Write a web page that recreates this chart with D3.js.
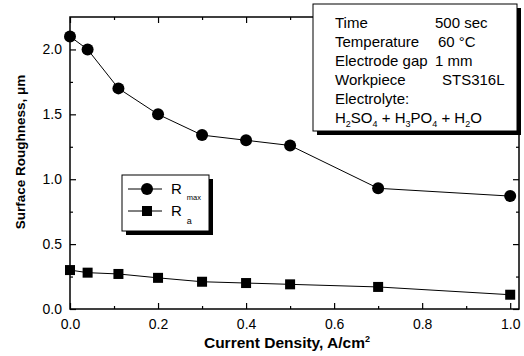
<!DOCTYPE html>
<html>
<head>
  <meta charset="utf-8" />
  <title>Surface roughness</title>
  <script src="https://d3js.org/d3.v7.min.js"></script>
  <style>
    body { margin: 0; background: #fff; }
    text { font-family: Arial, "Liberation Sans", sans-serif; fill: #000; }
  </style>
</head>
<body>
  <script>
    // data
    const density = [0, 0.04, 0.11, 0.2, 0.3, 0.4, 0.5, 0.7, 1.0];
    const rmax = [2.1, 2.0, 1.7, 1.5, 1.34, 1.3, 1.26, 0.93, 0.87];
    const ra = [0.3, 0.28, 0.27, 0.24, 0.21, 0.2, 0.19, 0.17, 0.11];

    const xMajor = [0, 0.2, 0.4, 0.6, 0.8, 1.0];
    const xMinor = [0.1, 0.3, 0.5, 0.7, 0.9];
    const yMajor = [0, 0.5, 1.0, 1.5, 2.0];
    const yMinor = [0.25, 0.75, 1.25, 1.75];

    const condLabels = ["Time", "Temperature", "Electrode gap", "Workpiece", "Electrolyte:"];
    const condValues = ["500 sec", "60 \u00B0C", "1 mm", "STS316L", ""];

    const width = 524, height = 356;
    const mLeft = 70, mRight = 519, mTop = 17, mBottom = 309;

    const svg = d3.select("body").append("svg")
      .attr("width", width)
      .attr("height", height);

    const x = d3.scaleLinear().domain([0, 1.02]).range([mLeft, mRight]);
    const y = d3.scaleLinear().domain([0, 2.25]).range([mBottom, mTop]);

    // frame
    svg.append("rect")
      .attr("x", mLeft).attr("y", mTop)
      .attr("width", mRight - mLeft).attr("height", mBottom - mTop)
      .attr("fill", "none").attr("stroke", "#000").attr("stroke-width", 1.5);

    function styleAxis(g) {
      g.select(".domain").remove();
      g.selectAll("line").attr("stroke", "#000").attr("stroke-width", 1.2);
      g.selectAll("text").style("font-size", "14px")
        .style("font-family", "Arial, 'Liberation Sans', sans-serif");
    }

    // bottom
    svg.append("g").attr("transform", `translate(0,${mBottom})`)
      .call(d3.axisBottom(x).tickValues(xMajor).tickSize(-6).tickPadding(10).tickFormat(d3.format(".1f")))
      .call(styleAxis);
    svg.append("g").attr("transform", `translate(0,${mBottom})`)
      .call(d3.axisBottom(x).tickValues(xMinor).tickSize(-3).tickFormat(""))
      .call(styleAxis);
    // top
    svg.append("g").attr("transform", `translate(0,${mTop})`)
      .call(d3.axisTop(x).tickValues(xMajor).tickSize(-6).tickFormat(""))
      .call(styleAxis);
    svg.append("g").attr("transform", `translate(0,${mTop})`)
      .call(d3.axisTop(x).tickValues(xMinor).tickSize(-3).tickFormat(""))
      .call(styleAxis);
    // left
    svg.append("g").attr("transform", `translate(${mLeft},0)`)
      .call(d3.axisLeft(y).tickValues(yMajor).tickSize(-6).tickPadding(8).tickFormat(d3.format(".1f")))
      .call(styleAxis);
    svg.append("g").attr("transform", `translate(${mLeft},0)`)
      .call(d3.axisLeft(y).tickValues(yMinor).tickSize(-3).tickFormat(""))
      .call(styleAxis);
    // right
    svg.append("g").attr("transform", `translate(${mRight},0)`)
      .call(d3.axisRight(y).tickValues(yMajor).tickSize(-6).tickFormat(""))
      .call(styleAxis);
    svg.append("g").attr("transform", `translate(${mRight},0)`)
      .call(d3.axisRight(y).tickValues(yMinor).tickSize(-3).tickFormat(""))
      .call(styleAxis);

    // axis titles
    const xt = svg.append("text")
      .attr("x", 287).attr("y", 348)
      .attr("text-anchor", "middle")
      .style("font-size", "15.5px").style("font-weight", "bold")
      .text("Current Density, A/cm");
    xt.append("tspan").attr("dy", -6).style("font-size", "9px").text("2");

    svg.append("text")
      .attr("transform", "translate(25,152) rotate(-90)")
      .attr("text-anchor", "middle")
      .style("font-size", "13.5px").style("font-weight", "bold")
      .text("Surface Roughness, \u03BCm");

    // series
    const rows = density.map((d, i) => ({ x: d, rmax: rmax[i], ra: ra[i] }));

    const lineMax = d3.line().x(d => x(d.x)).y(d => y(d.rmax));
    const lineA = d3.line().x(d => x(d.x)).y(d => y(d.ra));

    svg.append("path").datum(rows).attr("d", lineMax)
      .attr("fill", "none").attr("stroke", "#000").attr("stroke-width", 1);
    svg.append("path").datum(rows).attr("d", lineA)
      .attr("fill", "none").attr("stroke", "#000").attr("stroke-width", 1);

    svg.selectAll("circle.pt").data(rows).enter().append("circle")
      .attr("class", "pt")
      .attr("cx", d => x(d.x)).attr("cy", d => y(d.rmax))
      .attr("r", 6).attr("fill", "#000");

    const sq = 10;
    svg.selectAll("rect.pt").data(rows).enter().append("rect")
      .attr("class", "pt")
      .attr("x", d => x(d.x) - sq / 2).attr("y", d => y(d.ra) - sq / 2)
      .attr("width", sq).attr("height", sq).attr("fill", "#000");

    // legend box
    const lg = svg.append("g").attr("transform", "translate(122,175)");
    lg.append("rect").attr("x", 4).attr("y", 4).attr("width", 87).attr("height", 56).attr("fill", "#000");
    lg.append("rect").attr("width", 87).attr("height", 56)
      .attr("fill", "#fff").attr("stroke", "#000").attr("stroke-width", 1);

    lg.append("line").attr("x1", 6).attr("x2", 40).attr("y1", 14).attr("y2", 14).attr("stroke", "#000");
    lg.append("circle").attr("cx", 25).attr("cy", 14).attr("r", 6).attr("fill", "#000");
    const t1 = lg.append("text").attr("x", 49).attr("y", 19).style("font-size", "15px").text("R");
    t1.append("tspan").attr("dx", 5).attr("dy", 6).style("font-size", "7.5px").text("max");

    lg.append("line").attr("x1", 6).attr("x2", 40).attr("y1", 36).attr("y2", 36).attr("stroke", "#000");
    lg.append("rect").attr("x", 25 - sq / 2).attr("y", 36 - sq / 2).attr("width", sq).attr("height", sq).attr("fill", "#000");
    const t2 = lg.append("text").attr("x", 49).attr("y", 41).style("font-size", "15px").text("R");
    t2.append("tspan").attr("dx", 5).attr("dy", 8).style("font-size", "9px").text("a");

    // conditions box
    const cb = svg.append("g").attr("transform", "translate(313,4)");
    cb.append("rect").attr("x", 4).attr("y", 4).attr("width", 204).attr("height", 127).attr("fill", "#000");
    cb.append("rect").attr("width", 204).attr("height", 127)
      .attr("fill", "#fff").attr("stroke", "#000").attr("stroke-width", 1);

    const lineH = 19;
    condLabels.forEach((lab, i) => {
      cb.append("text").attr("x", 22).attr("y", 24 + i * lineH)
        .style("font-size", "15px").text(lab);
    });
    condValues.forEach((v, i) => {
      if (!v) return;
      const colX = i === 3 ? 129 : (i === 1 ? 125 : 122);
      cb.append("text")
        .attr("x", colX)
        .attr("y", 24 + i * lineH)
        .style("font-size", "15px").text(v);
    });

    // electrolyte formula with subscripts
    const parts = [["H", ""], ["2", "s"], ["SO", ""], ["4", "s"], [" + H", ""], ["3", "s"], ["PO", ""], ["4", "s"], [" + H", ""], ["2", "s"], ["O", ""]];
    const ft = cb.append("text").attr("x", 22).attr("y", 24 + 5 * lineH).style("font-size", "15px");
    let shifted = false;
    parts.forEach(([s, k]) => {
      const ts = ft.append("tspan").text(s);
      if (k === "s") { ts.attr("dy", 4).style("font-size", "9px"); shifted = true; }
      else if (shifted) { ts.attr("dy", -4); shifted = false; }
    });
  </script>
</body>
</html>
